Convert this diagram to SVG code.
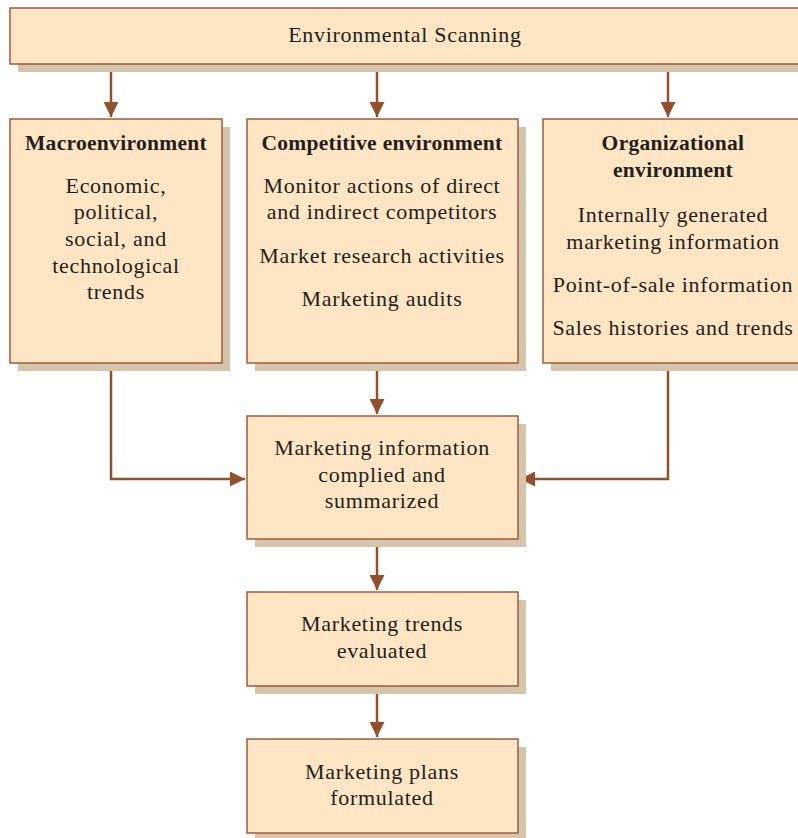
<svg xmlns="http://www.w3.org/2000/svg" width="798" height="838" viewBox="0 0 798 838">
<defs>
<style>
.box{fill:#FEE5C3;stroke:#9E5B3D;stroke-width:1.5}
.sh{fill:#D5C5AB}
.t{font-family:"Liberation Serif",serif;font-size:22px;letter-spacing:0.7px;fill:#231F20;text-anchor:middle}
.b{font-weight:bold;font-size:21.5px;letter-spacing:0.3px}
.c{fill:none;stroke:#93502F;stroke-width:2.5}
</style>
<marker id="ah" viewBox="0 0 10 10" refX="10" refY="5" markerWidth="6" markerHeight="6" markerUnits="strokeWidth" orient="auto">
<path d="M0,0 L10,5 L0,10 Z" fill="#93502F"/>
</marker>
</defs>
<rect width="798" height="838" fill="#fff"/>
<g id="connectors">
<path class="c" d="M111,64 V117" marker-end="url(#ah)"/>
<path class="c" d="M377,64 V117" marker-end="url(#ah)"/>
<path class="c" d="M668,64 V117" marker-end="url(#ah)"/>
<path class="c" d="M377,363 V414" marker-end="url(#ah)"/>
<path class="c" d="M111,363 V479 H245" marker-end="url(#ah)"/>
<path class="c" d="M668,363 V479 H520" marker-end="url(#ah)"/>
<path class="c" d="M377,539 V590" marker-end="url(#ah)"/>
<path class="c" d="M377,686 V737" marker-end="url(#ah)"/>
</g>
<g id="scanning">
<rect class="sh" x="18" y="16" width="790" height="56"/>
<rect class="box" x="10" y="8" width="798" height="56"/>
<text class="t" x="405" y="42">Environmental Scanning</text>
</g>
<g id="macro">
<rect class="sh" x="18" y="127" width="212" height="244"/>
<rect class="box" x="10" y="119" width="212" height="244"/>
<text class="t b" x="116" y="150">Macroenvironment</text>
<text class="t" x="116" y="193">Economic,</text>
<text class="t" x="116" y="219">political,</text>
<text class="t" x="116" y="246">social, and</text>
<text class="t" x="116" y="273">technological</text>
<text class="t" x="116" y="299">trends</text>
</g>
<g id="competitive">
<rect class="sh" x="255" y="127" width="271" height="244"/>
<rect class="box" x="247" y="119" width="271" height="244"/>
<text class="t b" x="382" y="150">Competitive environment</text>
<text class="t" x="382" y="193">Monitor actions of direct</text>
<text class="t" x="382" y="219">and indirect competitors</text>
<text class="t" x="382" y="263">Market research activities</text>
<text class="t" x="382" y="306">Marketing audits</text>
</g>
<g id="organizational">
<rect class="sh" x="551" y="127" width="260" height="244"/>
<rect class="box" x="543" y="119" width="260" height="244"/>
<text class="t b" x="673" y="150">Organizational</text>
<text class="t b" x="673" y="177">environment</text>
<text class="t" x="673" y="222">Internally generated</text>
<text class="t" x="673" y="249">marketing information</text>
<text class="t" x="673" y="292">Point-of-sale information</text>
<text class="t" x="673" y="335">Sales histories and trends</text>
</g>
<g id="compiled">
<rect class="sh" x="255" y="424" width="271" height="123"/>
<rect class="box" x="247" y="416" width="271" height="123"/>
<text class="t" x="382" y="455">Marketing information</text>
<text class="t" x="382" y="482">complied and</text>
<text class="t" x="382" y="508">summarized</text>
</g>
<g id="evaluated">
<rect class="sh" x="255" y="600" width="271" height="94"/>
<rect class="box" x="247" y="592" width="271" height="94"/>
<text class="t" x="382" y="631">Marketing trends</text>
<text class="t" x="382" y="658">evaluated</text>
</g>
<g id="formulated">
<rect class="sh" x="255" y="747" width="271" height="94"/>
<rect class="box" x="247" y="739" width="271" height="94"/>
<text class="t" x="382" y="779">Marketing plans</text>
<text class="t" x="382" y="805">formulated</text>
</g>
</svg>
